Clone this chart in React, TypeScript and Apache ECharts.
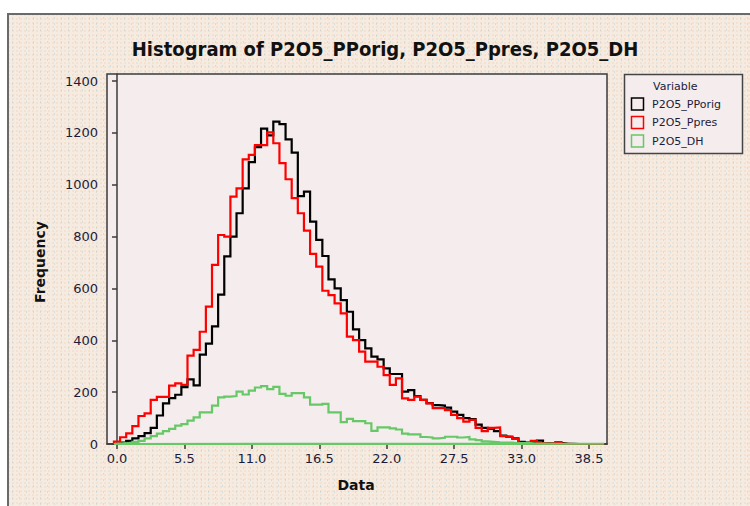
import React, { useEffect, useRef } from "react";
import * as echarts from "echarts";

// Histogram bins: centred at BIN_START + i * BIN_WIDTH
const BIN_START = 0;
const BIN_WIDTH = 0.5;

const xTicks = [0, 5.5, 11, 16.5, 22, 27.5, 33, 38.5];
const yTicks = [0, 200, 400, 600, 800, 1000, 1200, 1400];

const seriesNames = ["P2O5_PPorig", "P2O5_Ppres", "P2O5_DH"];
const seriesColors = ["#000000", "#ff0000", "#66c866"];

const ppOrig = [
  2, 5, 12, 22, 30, 42, 62, 110, 157, 177,
  190, 219, 249, 226, 345, 387, 454, 576, 724, 800,
  890, 986, 1087, 1145, 1216, 1190, 1243, 1234, 1175, 1124,
  956, 973, 858, 787, 725, 635, 600, 555, 510, 442,
  401, 369, 337, 326, 292, 270, 270, 202, 208, 185,
  170, 158, 150, 148, 140, 125, 112, 100, 96, 75,
  62, 58, 50, 32, 28, 22, 8, 5, 6, 13,
  3, 2, 4, 2, 1, 0, 0, 0, 0, 0,
];

const ppPres = [
  9, 26, 41, 69, 108, 118, 170, 182, 182, 225,
  234, 228, 341, 363, 433, 530, 691, 806, 800, 954,
  986, 1098, 1115, 1153, 1153, 1202, 1160, 1083, 1021, 948,
  890, 823, 733, 684, 591, 574, 542, 504, 414, 401,
  356, 318, 318, 298, 266, 228, 253, 176, 170, 183,
  170, 157, 138, 138, 131, 112, 100, 86, 93, 62,
  50, 62, 64, 30, 28, 20, 4, 2, 12, 3,
  2, 2, 7, 1, 0, 0, 0, 0, 0, 0,
];

const pDH = [
  2, 3, 5, 8, 12, 22, 30, 40, 50, 58,
  71, 77, 90, 103, 122, 122, 148, 180, 183, 185,
  202, 191, 206, 218, 223, 212, 220, 193, 186, 196,
  196, 180, 152, 152, 155, 122, 122, 84, 97, 88,
  88, 80, 51, 64, 64, 60, 56, 40, 37, 37,
  27, 25, 22, 24, 28, 28, 25, 27, 18, 15,
  10, 8, 6, 5, 5, 3, 3, 3, 2, 2,
  2, 1, 1, 1, 1, 1, 1, 1, 1, 1,
];

function outline(values: number[]): [number, number][] {
  const e0 = BIN_START - BIN_WIDTH / 2;
  const pts: [number, number][] = [[e0, 0]];
  values.forEach((v, i) => {
    const l = e0 + i * BIN_WIDTH;
    pts.push([l, v]);
    pts.push([l + BIN_WIDTH, v]);
  });
  const eN = e0 + values.length * BIN_WIDTH;
  pts.push([eN, 0]);
  pts.push([e0, 0]);
  return pts;
}

const TICK_FONT = "'DejaVu Sans', Verdana, sans-serif";
const TEXT_COLOR = "#1c1c3a";
const PLOT_BG = "#f5eded";

export default function App() {
  const ref = useRef<HTMLDivElement>(null);

  useEffect(() => {
    if (!ref.current) return;
    const chart = echarts.init(ref.current, undefined, { renderer: "svg" });
    const allValues = [ppOrig, ppPres, pDH];

    const legendRows = seriesNames.map((name, i) => {
      const cy = 104 + i * 18.5;
      return [
        {
          type: "rect",
          shape: { x: 631.5, y: cy - 6, width: 12, height: 12 },
          style: { fill: PLOT_BG, stroke: seriesColors[i], lineWidth: 1.5 },
        },
        {
          type: "text",
          x: 652,
          y: cy,
          style: {
            text: name,
            font: `11px ${TICK_FONT}`,
            fill: TEXT_COLOR,
            textVerticalAlign: "middle",
          },
        },
      ];
    }).flat();

    chart.setOption({
      animation: false,
      backgroundColor: "transparent",
      grid: {
        left: 107,
        top: 74,
        right: 143,
        bottom: 62,
        show: true,
        backgroundColor: PLOT_BG,
        borderColor: "#3a3a3a",
        borderWidth: 1.5,
      },
      xAxis: {
        type: "value",
        min: -0.816,
        max: 39.97,
        splitLine: { show: false },
        axisLine: { show: true, onZero: false, lineStyle: { color: "#3a3a3a", width: 1.5 } },
        axisTick: {
          show: true,
          length: 5,
          customValues: xTicks,
          lineStyle: { color: "#3a3a3a", width: 1.5 },
        },
        axisLabel: {
          customValues: xTicks,
          formatter: (v: number) => v.toFixed(1),
          color: TEXT_COLOR,
          fontFamily: TICK_FONT,
          fontSize: 13,
          margin: 8,
        },
      },
      yAxis: {
        type: "value",
        min: 0,
        max: 1427,
        splitLine: { show: false },
        axisLine: { show: true, lineStyle: { color: "#3a3a3a", width: 1.5 } },
        axisTick: {
          show: true,
          length: 5,
          customValues: yTicks,
          lineStyle: { color: "#3a3a3a", width: 1.5 },
        },
        axisLabel: {
          customValues: yTicks,
          formatter: (v: number) => String(v),
          color: TEXT_COLOR,
          fontFamily: TICK_FONT,
          fontSize: 13,
          margin: 9,
        },
      },
      series: allValues.map((vals, i) => ({
        name: seriesNames[i],
        type: "line",
        data: outline(vals),
        showSymbol: false,
        symbol: "none",
        clip: false,
        z: 2 + i,
        lineStyle: { color: seriesColors[i], width: 2.2, join: "miter" },
        emphasis: { disabled: true },
      })),
      graphic: [
        {
          type: "text",
          x: 385,
          y: 49,
          scaleX: 0.9,
          style: {
            text: "Histogram of P2O5_PPorig, P2O5_Ppres, P2O5_DH",
            font: `bold 20px ${TICK_FONT}`,
            fill: "#111111",
            textAlign: "center",
            textVerticalAlign: "middle",
          },
        },
        {
          type: "text",
          x: 40,
          y: 262,
          rotation: Math.PI / 2,
          style: {
            text: "Frequency",
            font: `bold 14px ${TICK_FONT}`,
            fill: "#111111",
            textAlign: "center",
            textVerticalAlign: "middle",
          },
        },
        {
          type: "text",
          x: 356,
          y: 485,
          style: {
            text: "Data",
            font: `bold 14px ${TICK_FONT}`,
            fill: "#111111",
            textAlign: "center",
            textVerticalAlign: "middle",
          },
        },
        {
          type: "rect",
          shape: { x: 624.5, y: 74.5, width: 118, height: 79 },
          style: { fill: PLOT_BG, stroke: "#444444", lineWidth: 1.5 },
        },
        {
          type: "text",
          x: 653,
          y: 86,
          style: {
            text: "Variable",
            font: `11px ${TICK_FONT}`,
            fill: TEXT_COLOR,
            textVerticalAlign: "middle",
          },
        },
        ...legendRows,
      ],
    });
    return () => chart.dispose();
  }, []);

  return (
    <div style={{ position: "fixed", left: 0, top: 0, width: 750, height: 506, background: "#ffffff", overflow: "hidden" }}>
      <div
        style={{
          position: "absolute",
          left: 7,
          top: 13,
          width: 743,
          height: 493,
          boxSizing: "border-box",
          borderTop: "2px solid #6a6a6a",
          borderLeft: "2px solid #6a6a6a",
          backgroundColor: "#f6ebe1",
          backgroundImage:
            "radial-gradient(rgba(120,185,205,0.28) 0.6px, transparent 1px), radial-gradient(rgba(235,195,160,0.35) 0.6px, transparent 1px)",
          backgroundSize: "7px 6px, 4px 4px",
          backgroundPosition: "0 0, 2px 2px",
        }}
      />
      <div ref={ref} style={{ position: "absolute", left: 0, top: 0, width: 750, height: 506 }} />
    </div>
  );
}
